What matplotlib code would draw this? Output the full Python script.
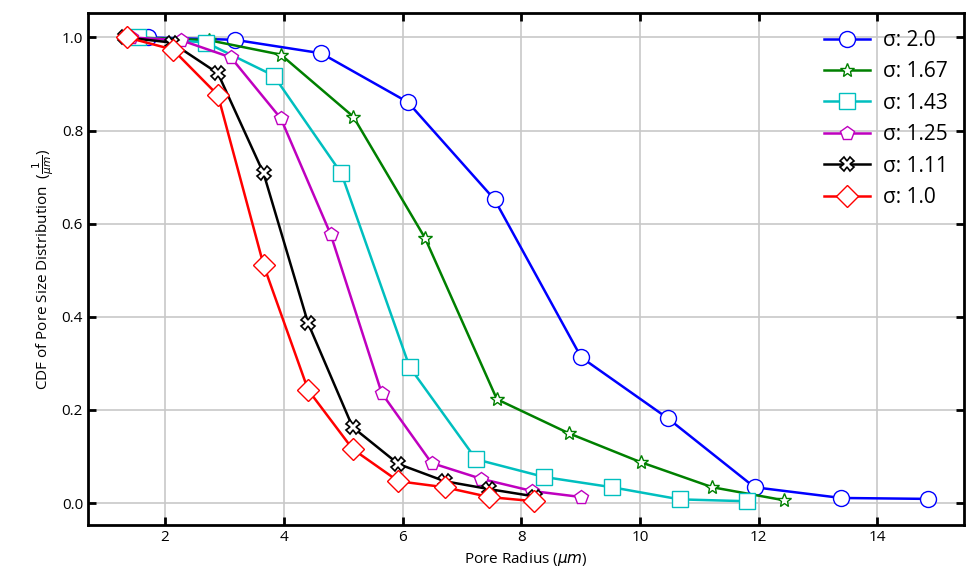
import numpy as np
import matplotlib.pyplot as plt

plt.rcParams['font.family'] = ['Open Sans', 'DejaVu Sans']
plt.rcParams['mathtext.fontset'] = 'dejavusans'

# sigma = 2.0
x_20 = [1.71, 3.17, 4.63, 6.09, 7.55, 9.01, 10.47, 11.93, 13.39, 14.85]
y_20 = [1.0, 0.995, 0.966, 0.861, 0.652, 0.313, 0.182, 0.034, 0.011, 0.009]
# sigma = 1.67
x_167 = [1.53, 2.74, 3.95, 5.17, 6.38, 7.59, 8.80, 10.01, 11.22, 12.43]
y_167 = [1.0, 0.994, 0.963, 0.83, 0.569, 0.223, 0.150, 0.088, 0.034, 0.006]
# sigma = 1.43
x_143 = [1.55, 2.69, 3.83, 4.97, 6.12, 7.24, 8.39, 9.53, 10.67, 11.80]
y_143 = [1.0, 0.989, 0.918, 0.708, 0.292, 0.094, 0.056, 0.034, 0.008, 0.004]
# sigma = 1.25
x_125 = [1.43, 2.27, 3.11, 3.95, 4.79, 5.65, 6.49, 7.33, 8.18, 9.01]
y_125 = [1.0, 0.994, 0.957, 0.826, 0.577, 0.236, 0.086, 0.052, 0.026, 0.013]
# sigma = 1.11
x_111 = [1.33, 2.11, 2.89, 3.66, 4.41, 5.16, 5.93, 6.71, 7.46, 8.24]
y_111 = [1.0, 0.989, 0.923, 0.708, 0.386, 0.163, 0.084, 0.047, 0.030, 0.014]
# sigma = 1.0
x_10 = [1.36, 2.13, 2.89, 3.66, 4.41, 5.16, 5.93, 6.71, 7.46, 8.22]
y_10 = [1.0, 0.974, 0.876, 0.511, 0.243, 0.116, 0.047, 0.034, 0.013, 0.004]

fig = plt.figure(figsize=(9.66, 5.75), dpi=100)
ax = fig.add_axes([0.091, 0.087, 0.907, 0.890])

ax.plot(x_20, y_20, '-o', color='b', lw=1.8, ms=11.5, mfc='white', mec='b', label='σ: 2.0')
ax.plot(x_167, y_167, '-*', color='g', lw=1.8, ms=10, mfc='white', mec='g', label='σ: 1.67')
ax.plot(x_143, y_143, '-s', color='c', lw=1.8, ms=11, mfc='white', mec='c', label='σ: 1.43')
ax.plot(x_125, y_125, '-p', color='m', lw=1.8, ms=10.5, mfc='white', mec='m', label='σ: 1.25')
ax.plot(x_111, y_111, '-X', color='k', lw=1.8, ms=10, mfc='white', mec='k', mew=1.2, label='σ: 1.11')
ax.plot(x_10, y_10, '-D', color='r', lw=1.8, ms=11, mfc='white', mec='r', label='σ: 1.0')

ax.set_xlim(0.7, 15.46)
ax.set_ylim(-0.047, 1.052)
ax.set_xticks([2, 4, 6, 8, 10, 12, 14])
ax.set_yticks([0.0, 0.2, 0.4, 0.6, 0.8, 1.0])
ax.tick_params(direction='in', top=True, right=True, length=6, width=2, labelsize=11)
for s in ax.spines.values():
    s.set_linewidth(2)
ax.grid(True, color='#c8c8c8', lw=1.2)
ax.set_axisbelow(True)

ax.set_xlabel(r'Pore Radius ($\mu m$)', fontsize=11)
ax.set_ylabel(r'CDF of Pore Size Distribution  ($\frac{1}{\mu m}$)', fontsize=11)
ax.legend(loc='upper right', frameon=False, fontsize=15, handlelength=2.2,
          handletextpad=0.6, borderaxespad=0.4, labelspacing=0.5)

plt.savefig('out.png', dpi=100)
